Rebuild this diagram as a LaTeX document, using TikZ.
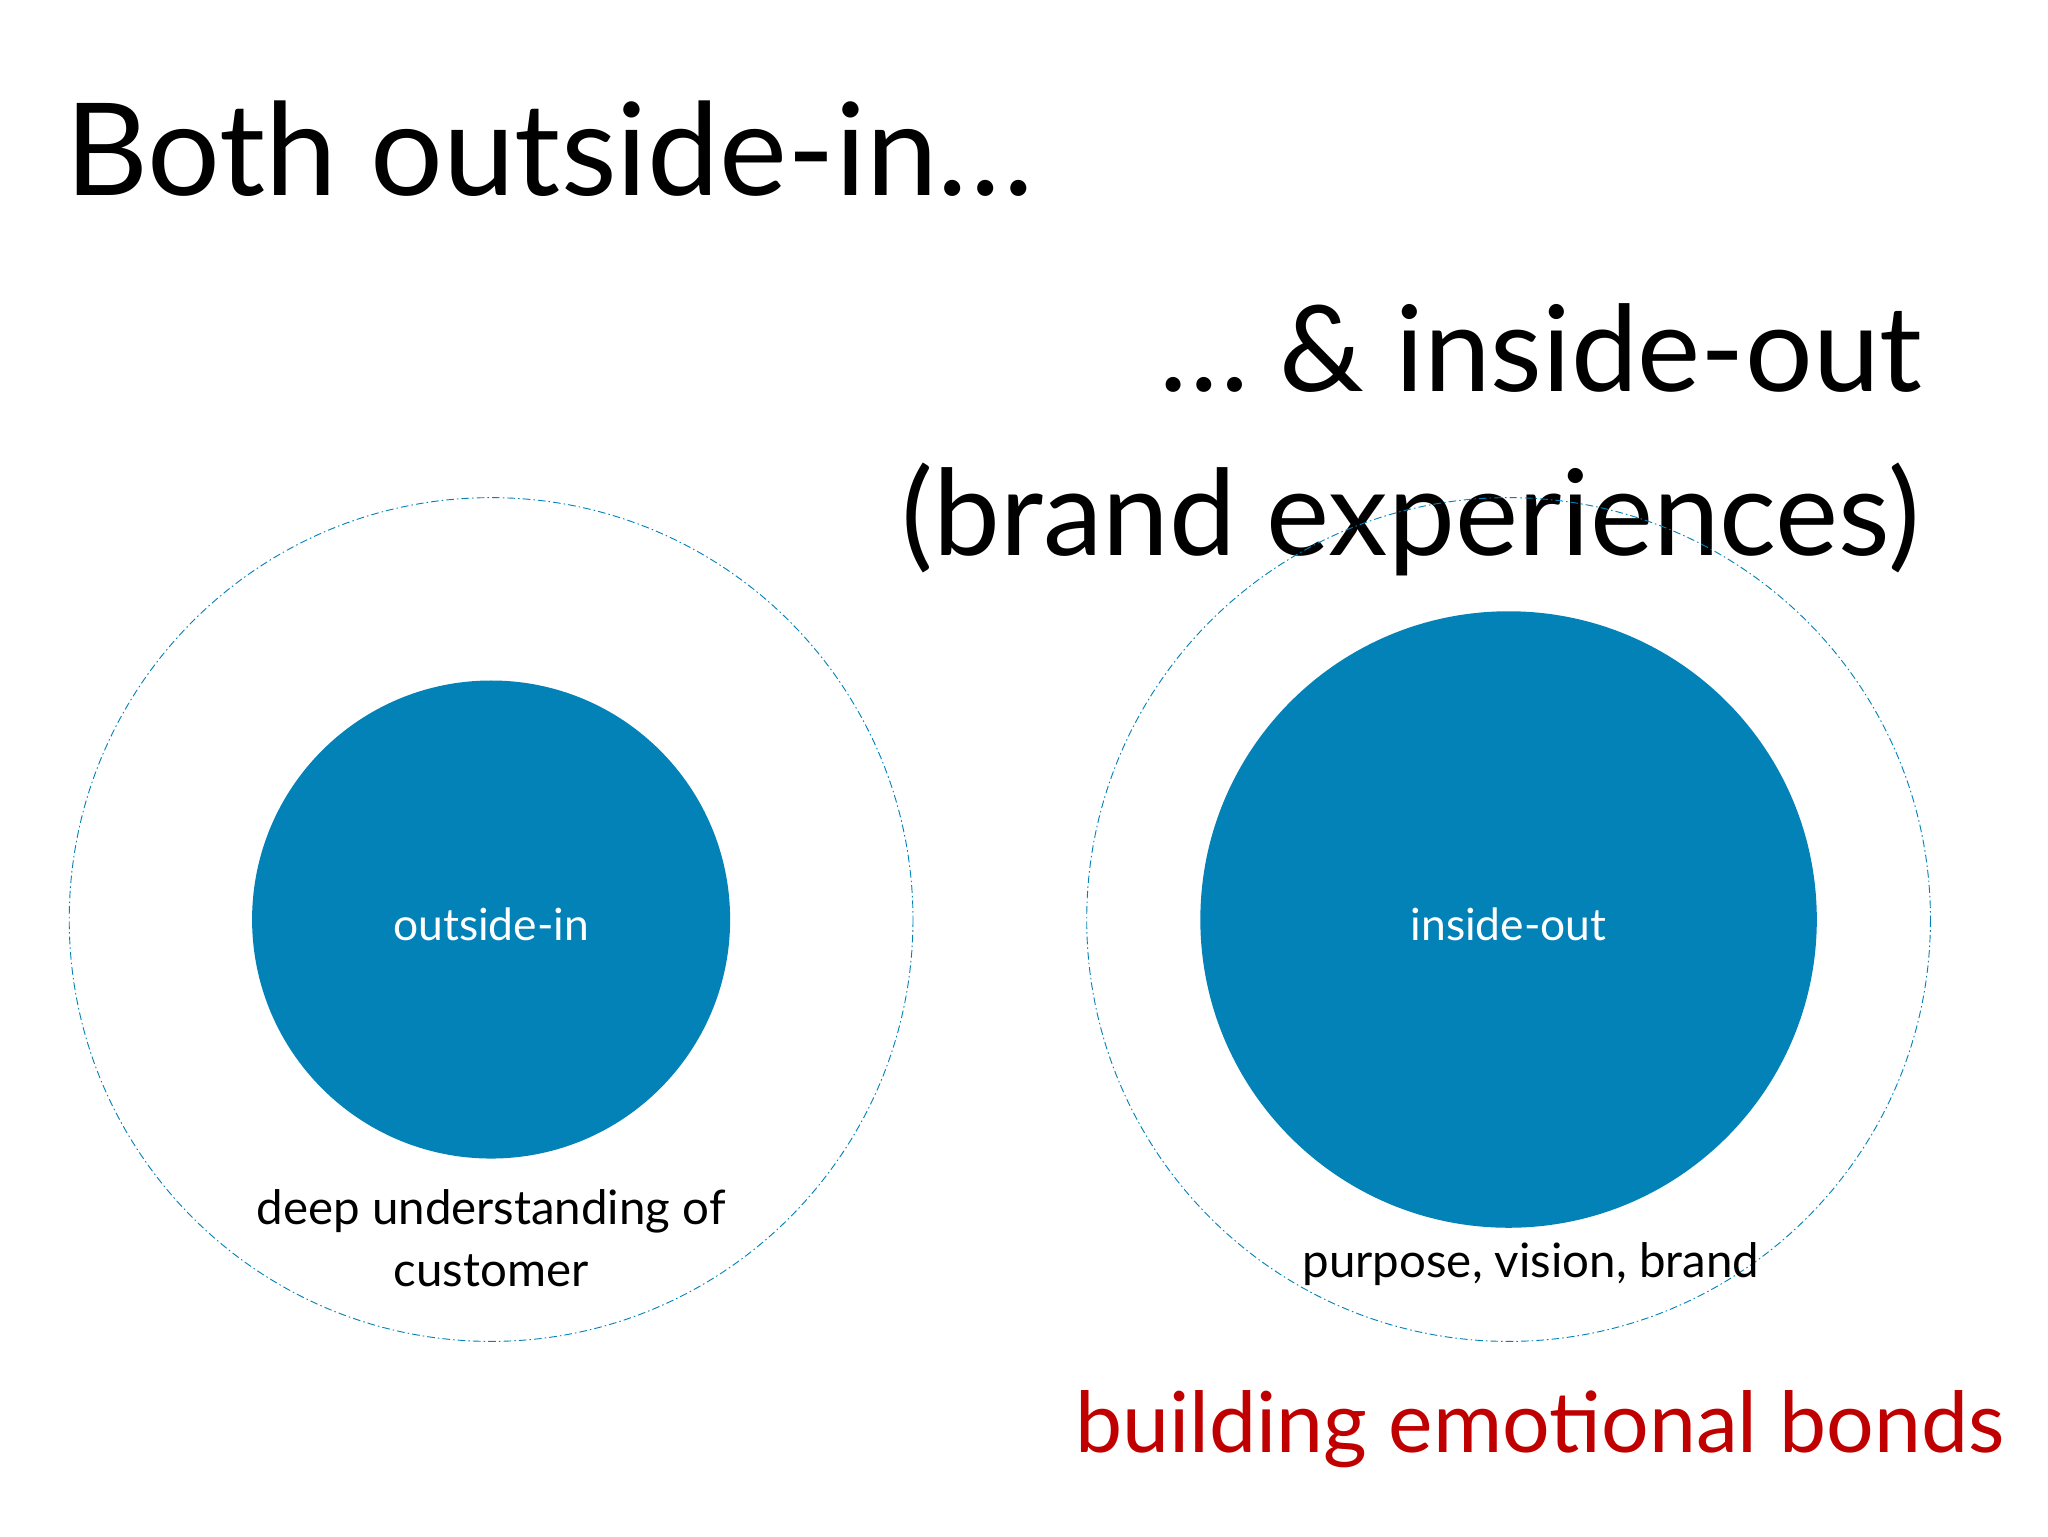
\documentclass[tikz,border=0pt]{standalone}
\usepackage{fontspec}
\setmainfont{Lato}
\definecolor{cblue}{HTML}{0382B8}
\definecolor{cred}{HTML}{C00000}
\begin{document}
\begin{tikzpicture}[x=0.03cm,y=-0.03cm,
  ring/.style={draw=cblue,line width=0.6pt,dash pattern=on 5pt off 2pt on 1pt off 2pt},
  disc/.style={circle,fill=cblue,inner sep=0pt},
  lbl/.style={font=\fontsize{29}{34}\selectfont,text=white},
  captxt/.style={font=\fontsize{31}{40}\selectfont,align=center}]
\useasboundingbox (0,0) rectangle (1568,1176);
\node[anchor=base west,font=\fontsize{84}{90}\selectfont,inner sep=0pt] (t1) at (50,150) {Both outside-in…};
\node[anchor=base east,font=\fontsize{78}{84}\selectfont,inner sep=0pt] (t2) at (1472,300) {… \& inside-out};
\node[anchor=base east,font=\fontsize{78}{84}\selectfont,inner sep=0pt] (t3) at (1470,425) {(brand experiences)};
\draw[ring] (376,704) circle (323);
\draw[ring] (1155,704) circle (323);
\node[disc,minimum size=366*0.03cm] (a) at (376,704) {};
\node[disc,minimum size=472*0.03cm] (b) at (1155,704) {};
\node[lbl] (al) at (376,708) {outside-in};
\node[lbl] (bl) at (1155,708) {inside-out};
\node[captxt] (ac) at (376,948) {deep understanding of\\customer};
\node[captxt,anchor=base] (bc) at (1172,978) {purpose, vision, brand};
\node[anchor=base east,font=\fontsize{55}{60}\selectfont,text=cred,inner sep=0pt] (r) at (1535,1112) {building emotional bonds};
\end{tikzpicture}
\end{document}
